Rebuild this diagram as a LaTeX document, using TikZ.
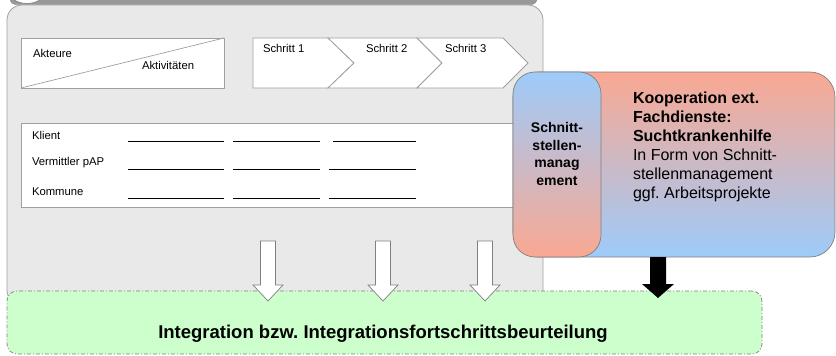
\documentclass[tikz,border=0pt]{standalone}
\usepackage{fontspec}
\setmainfont{Liberation Sans}
\usetikzlibrary{calc}
\frenchspacing
\definecolor{boxgray}{HTML}{E9E9E9}
\definecolor{edgegray}{HTML}{A0A0A0}
\definecolor{bargray}{HTML}{999999}
\definecolor{greenfill}{HTML}{CCFFCC}
\definecolor{orng}{HTML}{FAA892}
\definecolor{blu}{HTML}{9DCBFA}
\newcommand\myblockarrow[6]{%
  \path[#6] let \p1=(#1), \p2=(#2) in
   (\x1-#3pt,\y1) -- (\x1+#3pt,\y1) -- (\x1+#3pt,\y2+#5pt) -- (\x1+#4pt,\y2+#5pt)
   -- (\x2,\y2) -- (\x1-#4pt,\y2+#5pt) -- (\x1-#3pt,\y2+#5pt) -- cycle;
}
\begin{document}
\frenchspacing
\begin{tikzpicture}[x=1pt,y=-1pt,
  every node/.style={inner sep=0pt,outer sep=0pt},
  border/.style={draw=edgegray,line width=0.8pt},
  smalltext/.style={font=\fontsize{11.3}{13}\selectfont,anchor=west},
  chevbox/.style={border,fill=white},
  rowline/.style={draw=black,line width=0.7pt},
  whitearrow/.style={draw=gray,line width=0.7pt,fill=white},
  blackarrow/.style={fill=black}]
\useasboundingbox (0,0) rectangle (836,356);
\clip (0,0) rectangle (836,356);

% top bar and circle (cut off)
\draw[fill=bargray,draw=gray,rounded corners=6pt] (10,-30) rectangle (537,4.5);
\draw[fill=white,draw=gray,line width=0.6pt] (27,-22) circle (25.5pt);

% main grey box
\node[border,fill=boxgray,rounded corners=15pt,minimum width=536pt,minimum height=300pt,anchor=north west] (main) at (7,5) {};

% Akteure / Aktivitaeten
\node[border,fill=white,minimum width=203pt,minimum height=50pt,anchor=north west] (aktbox) at (21,38) {};
\draw[draw=edgegray,line width=0.7pt] (aktbox.south west) -- (aktbox.north east);
\node[smalltext] (akteure) at (33,53) {Akteure};
\node[smalltext] (aktiv) at (142,65) {Aktivitäten};

% Schritte
\path[chevbox] (253,38) -- (328,38) -- (354,63) -- (328,88) -- (253,88) -- cycle;
\path[chevbox] (328,38) -- (417,38) -- (442,63) -- (417,88) -- (328,88) -- (354,63) -- cycle;
\path[chevbox] (417,38) -- (503,38) -- (528,63) -- (503,88) -- (417,88) -- (442,63) -- cycle;
\node[smalltext] (s1) at (263,48) {Schritt 1};
\node[smalltext] (s2) at (366,48) {Schritt 2};
\node[smalltext] (s3) at (445,48) {Schritt 3};

% table
\node[border,fill=white,minimum width=499pt,minimum height=84pt,anchor=north west] (table) at (21,123) {};
\node[smalltext] (klient) at (32,135) {Klient};
\node[smalltext] (verm) at (32,163) {Vermittler pAP};
\node[smalltext] (komm) at (32,192) {Kommune};
\draw[rowline] (128,141) -- (224,141) (233,141) -- (320,141) (333,141) -- (416,141);
\draw[rowline] (128,169) -- (224,169) (233,169) -- (320,169) (329,169) -- (416,169);
\draw[rowline] (128,198) -- (224,198) (233,198) -- (320,198) (329,198) -- (416,198);

% green box
\node[draw=gray,line width=0.7pt,dash pattern=on 4pt off 2pt on 1pt off 2pt,fill=greenfill,rounded corners=10pt,minimum width=755pt,minimum height=63pt,anchor=north west] (integ) at (7,291) {};
\node[font=\bfseries\fontsize{18.5}{21}\selectfont] (integtext) at (383,334) {Integration bzw. Integrationsfortschrittsbeurteilung};

% white arrows
\coordinate (w1s) at (268,241); \coordinate (w1e) at (268,301);
\coordinate (w2s) at (383,241); \coordinate (w2e) at (383,301);
\coordinate (w3s) at (485,241); \coordinate (w3e) at (485,301);
\myblockarrow{w1s}{w1e}{7.5}{15}{16}{whitearrow}
\myblockarrow{w2s}{w2e}{7.5}{15}{16}{whitearrow}
\myblockarrow{w3s}{w3e}{7.5}{15}{16}{whitearrow}

% cooperation box
\node[draw=gray,line width=0.7pt,rounded corners=25pt,top color=orng,bottom color=blu,minimum width=322pt,minimum height=185pt,anchor=north west] (koop) at (513,72) {};
\node[draw=gray,line width=0.7pt,rounded corners=22pt,top color=blu,bottom color=orng,minimum width=88pt,minimum height=185pt,anchor=north west] (schnitt) at (513,72) {};
\node[font=\bfseries\fontsize{14}{17.5}\selectfont,align=center] (schnitttext) at (557,154) {Schnitt-\\stellen-\\manag\\ement};
\node[font=\fontsize{16}{19}\selectfont,align=left,anchor=north west] (kooptext) at (633,91.5)
  {\textbf{Kooperation ext.}\\\textbf{Fachdienste:}\\\textbf{Suchtkrankenhilfe}\\In Form von Schnitt-\\stellenmanagement\\ggf. Arbeitsprojekte};

% black arrow
\coordinate (bks) at (658,257); \coordinate (bke) at (658,298);
\myblockarrow{bks}{bke}{8}{16}{14}{blackarrow}
\end{tikzpicture}
\end{document}
